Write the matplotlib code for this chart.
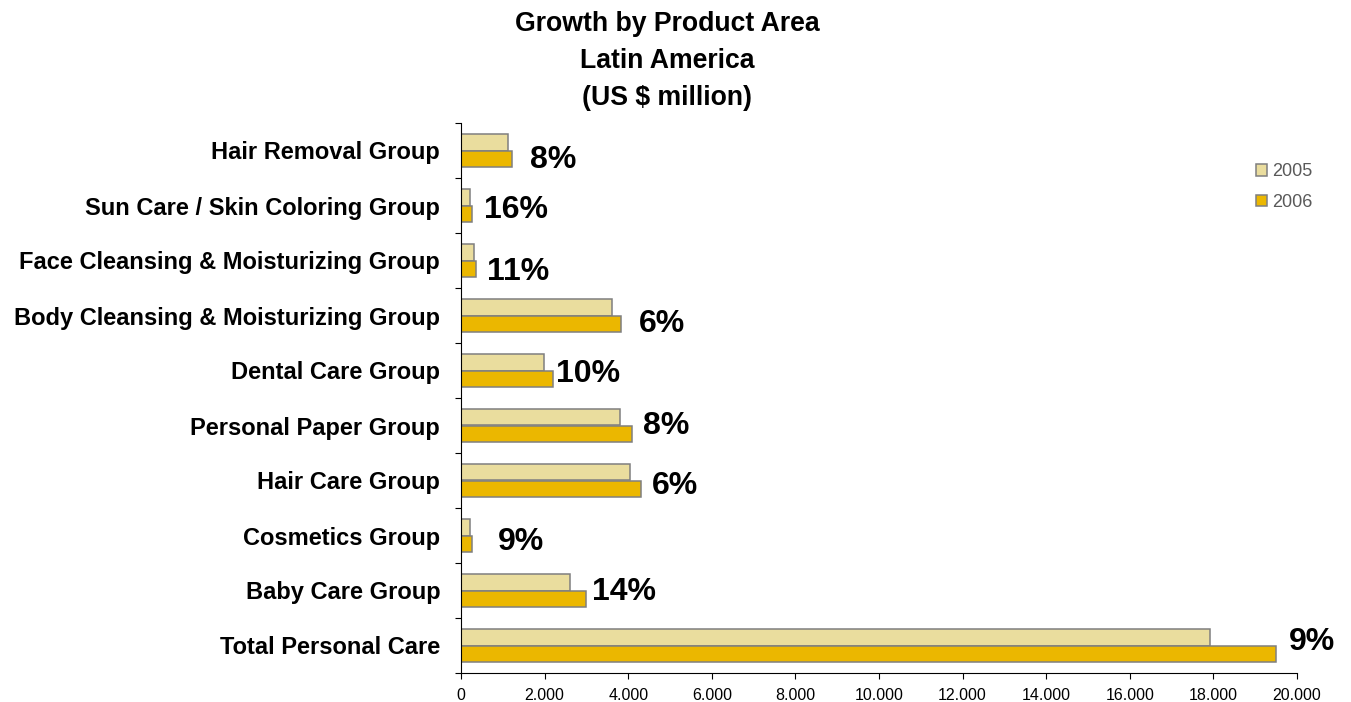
import matplotlib
matplotlib.use("Agg")
import matplotlib.pyplot as plt
import numpy as np
from matplotlib.ticker import FuncFormatter

plt.rcParams['font.family'] = ['Liberation Sans', 'DejaVu Sans']

categories = ['Hair Removal Group', 'Sun Care / Skin Coloring Group',
              'Face Cleansing & Moisturizing Group', 'Body Cleansing & Moisturizing Group',
              'Dental Care Group', 'Personal Paper Group', 'Hair Care Group',
              'Cosmetics Group', 'Baby Care Group', 'Total Personal Care']
sales_2005 = [1120, 220, 320, 3620, 1980, 3800, 4040, 220, 2610, 17920]
sales_2006 = [1210, 255, 360, 3830, 2190, 4080, 4300, 255, 3000, 19490]
growth = ['8%', '16%', '11%', '6%', '10%', '8%', '6%', '9%', '14%', '9%']

# label nudges in pixels (dx from bar end, dy downward)
label_dx = [18, 12, 11, 18, 3, 11, 11, 26, 6, 13]
label_dy = [9, 5, 11, 9, 4, 1, 6, 7, 2, -3]

c05 = '#EADD9E'
c06 = '#EBB700'
edge = '#7F7F7F'

fig = plt.figure(figsize=(13.51, 7.02), dpi=100)
ax = fig.add_axes([461/1351, 1 - 673/702, 836/1351, 550/702])

y = np.arange(len(categories))
h = 0.3
ax.barh(y - h/2, sales_2005, h, color=c05, edgecolor=edge, linewidth=1.1, label='2005')
ax.barh(y + h/2, sales_2006, h, color=c06, edgecolor=edge, linewidth=1.1, label='2006')

for i, txt in enumerate(growth):
    ax.annotate(txt, xy=(sales_2006[i], y[i]),
                xytext=(label_dx[i] * 0.72, -label_dy[i] * 0.72),
                textcoords='offset points', ha='left', va='center',
                fontsize=23, fontweight='bold')

ax.set_xlim(0, 20000)
ax.set_ylim(len(categories) - 0.5, -0.5)
ax.set_xticks(np.arange(0, 20001, 2000))
ax.xaxis.set_major_formatter(FuncFormatter(lambda v, p: f"{int(v):,}".replace(',', '.')))
ax.tick_params(axis='x', labelsize=11.5, length=4, pad=7, color='black')

ax.set_yticks(np.arange(-0.5, len(categories)), labels=[''] * (len(categories) + 1))
ax.set_yticks(y, labels=categories, minor=True)
ax.tick_params(axis='y', which='major', length=4)
ax.tick_params(axis='y', which='minor', length=0, pad=15, labelsize=17)
for t in ax.get_yticklabels(minor=True):
    t.set_fontweight('bold')

for s in ['top', 'right']:
    ax.spines[s].set_visible(False)

leg = fig.legend(loc='upper left', bbox_to_anchor=(1240/1351, 1 - 147/702), frameon=False,
                 fontsize=13, handlelength=0.6, handleheight=0.6, handletextpad=0.3,
                 labelspacing=0.75)
for t in leg.get_texts():
    t.set_color('#595959')

fig.suptitle('Growth by Product Area\nLatin America\n(US $ million)', x=0.494, y=0.985,
             va='top', fontsize=19.2, fontweight='bold', linespacing=1.57)

fig.savefig('out.png', dpi=100)
